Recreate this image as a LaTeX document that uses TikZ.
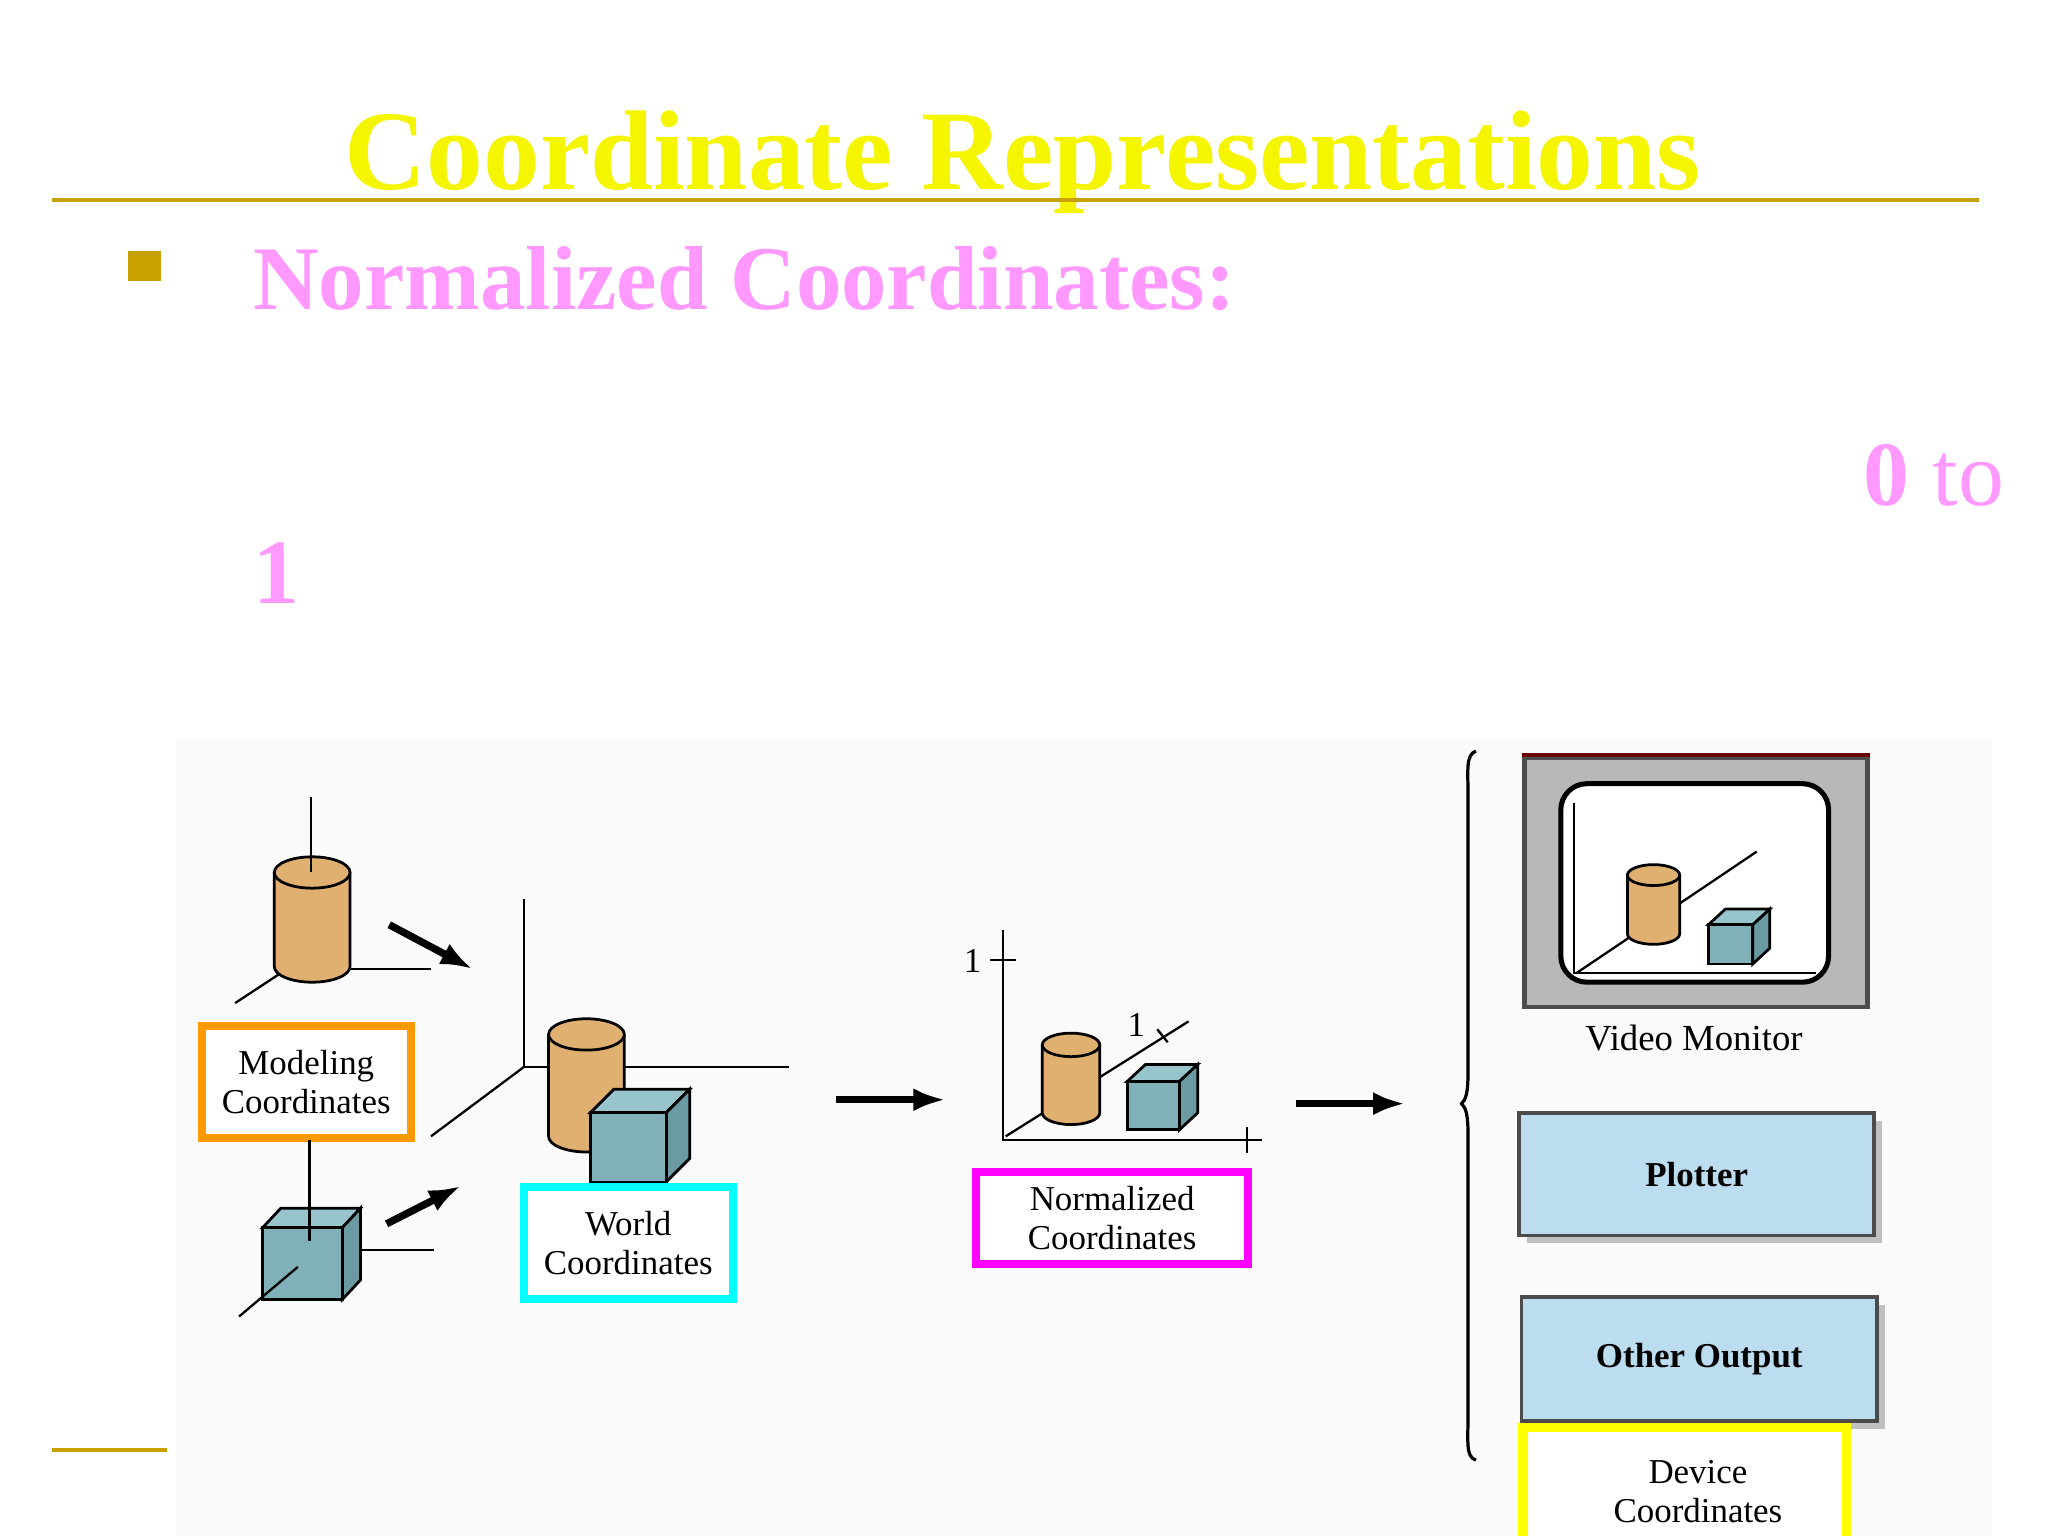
\documentclass[tikz,border=0pt]{standalone}
\usepackage{fontspec}
\setmainfont{Liberation Serif}
\usetikzlibrary{arrows.meta}
\definecolor{gold}{HTML}{C8A000}
\definecolor{ttl}{HTML}{F5F500}
\definecolor{pk}{HTML}{FF99FF}
\definecolor{cyl}{HTML}{E0B070}
\definecolor{cubef}{HTML}{80B0B8}
\definecolor{cubet}{HTML}{98C4CC}
\definecolor{cubes}{HTML}{6A9AA2}
\definecolor{dev}{HTML}{BCDCF0}
\definecolor{org}{HTML}{FF9900}
\definecolor{cyn}{HTML}{00FFFF}
\definecolor{mag}{HTML}{FF00FF}
\definecolor{yel}{HTML}{FFFF00}
\begin{document}
\begin{tikzpicture}[x=0.01cm,y=-0.01cm,
 lbl/.style={font=\fontsize{7.6}{8.4}\selectfont,align=center,inner sep=0},
 box/.style={line width=6*0.01cm},
 ax/.style={line width=0.5pt},
 arr/.style={line width=1.6pt,-{Latex[length=7pt,width=5pt]}},
 outb/.style={fill=dev,draw=black!70,line width=0.8pt,font=\fontsize{7.6}{8.4}\selectfont\bfseries}]
\useasboundingbox (0,0) rectangle (1568,1176);
\fill[white] (0,0) rectangle (1568,1176);
\fill[black!2] (135,565) rectangle (1525,1176);
% header
\node[text=ttl,font=\fontsize{24.7}{28}\selectfont\bfseries,anchor=base] (title) at (783,145) {Coordinate Representations};
\draw[gold,line width=3*0.01cm] (40,153) -- (1515,153);
\fill[gold] (98,192) rectangle (123,215);
\node[text=pk,font=\fontsize{19.8}{24}\selectfont\bfseries,anchor=base west,inner sep=0] (nc) at (193,237) {Normalized Coordinates:};
\node[text=pk,font=\fontsize{20}{24}\selectfont,anchor=base east,inner sep=0] (zt) at (1535,387) {\textbf{0} to};
\node[text=pk,font=\fontsize{20}{24}\selectfont\bfseries,anchor=base west,inner sep=0] (one) at (193,462) {1};
\draw[gold,line width=3*0.01cm] (40,1110) -- (128,1110);
% cylinder macro
\newcommand{\mycyl}[5]{% cx, top y, rx, ry, bottom y
 \fill[cyl] (#1-#3,#2) -- (#1-#3,#5) arc[start angle=180,end angle=0,x radius=#3,y radius=#4] -- (#1+#3,#2) -- cycle;
 \draw[black,line width=0.6pt] (#1-#3,#2) -- (#1-#3,#5) arc[start angle=180,end angle=0,x radius=#3,y radius=#4] -- (#1+#3,#2);
 \draw[black,line width=0.6pt,fill=cyl] (#1,#2) ellipse[x radius=#3,y radius=#4];}
\newcommand{\mycube}[6]{% x1 y1 x2 y2 dx dy
 \draw[line width=0.6pt,fill=cubet] (#1,#2) -- (#1+#5,#2-#6) -- (#3+#5,#2-#6) -- (#3,#2) -- cycle;
 \draw[line width=0.6pt,fill=cubes] (#3,#2) -- (#3+#5,#2-#6) -- (#3+#5,#4-#6) -- (#3,#4) -- cycle;
 \draw[line width=0.6pt,fill=cubef] (#1,#2) rectangle (#3,#4);}
% modeling
\draw[ax] (239,742) -- (330,742);
\draw[ax] (180,768) -- (215,745);
\mycyl{239}{668}{29}{12}{740}
\draw[ax] (238,610) -- (238,668);
\coordinate (a1s) at (298,708); \coordinate (a1e) at (362,742);
\draw[arr] (a1s) -- (a1e);
\node[box,draw=org,fill=white,minimum width=160*0.01cm,minimum height=86*0.01cm,lbl] (mod) at (234.5,828.5) {Modeling\\Coordinates};
\coordinate (c0) at (237,873);
\coordinate (c1) at (237,925);
\draw[ax] (c0) -- (c1);
\mycube{201}{940}{262}{995}{14}{15}
\draw[ax] (237,925) -- (237,950);
\draw[ax] (275,957) -- (332,957);
\draw[ax] (183,1008) -- (228,970);
\coordinate (a2s) at (296,937); \coordinate (a2e) at (353,908);
\draw[arr] (a2s) -- (a2e);
% world
\draw[ax] (401,688) -- (401,817) -- (604,817);
\draw[ax] (330,870) -- (401,817);
\mycyl{449}{792}{29}{12}{870}
\mycube{452}{852}{510}{905}{18}{18}
\node[box,draw=cyn,fill=white,minimum width=160*0.01cm,minimum height=86*0.01cm,lbl] (wld) at (481,951.5) {World\\Coordinates};
\coordinate (a3s) at (640,842); \coordinate (a3e) at (724,842);
\draw[arr] (a3s) -- (a3e);
% normalized
\draw[ax] (768,712) -- (768,873) -- (966,873);
\draw[ax] (758,735) -- (778,735);
\draw[ax] (955,863) -- (955,883);
\draw[ax] (770,870) -- (910,782);
\draw[ax] (886,788) -- (894,798);
\node[lbl,anchor=east] (n1) at (752,736) {1};
\node[lbl] (n2) at (870,785) {1};
\mycyl{820}{800}{22}{9}{852}
\mycube{863}{828}{903}{865}{14}{13}
\node[box,draw=mag,fill=white,minimum width=208*0.01cm,minimum height=70*0.01cm,lbl] (nrm) at (851.5,932.5) {Normalized\\Coordinates};
\coordinate (a4s) at (992,845); \coordinate (a4e) at (1076,845);
\draw[arr] (a4s) -- (a4e);
% brace
\coordinate (b1) at (1130,575); \coordinate (b2) at (1130,1118); \coordinate (bt) at (1119,845);
\draw[line width=0.7pt] (b1) .. controls (1122,578) and (1124,590) .. (1124,610) -- (1124,820) .. controls (1124,838) and (1122,842) .. (bt) .. controls (1122,848) and (1124,852) .. (1124,870) -- (1124,1080) .. controls (1124,1105) and (1122,1115) .. (b2);
% monitor
\node[draw=black!70,fill=black!28,line width=1pt,minimum width=263*0.01cm,minimum height=191*0.01cm,inner sep=0] (mon) at (1298.5,675.5) {};
\draw[red!40!black,line width=0.8pt] (mon.north west) -- (mon.north east);
\draw[line width=1.1pt,fill=white,rounded corners=20*0.01cm] (1195,600) rectangle (1400,752);
\draw[ax] (1205,615) -- (1205,745) -- (1390,745);
\draw[ax] (1207,745) -- (1345,652);
\mycyl{1266}{670}{20}{8}{715}
\mycube{1308}{708}{1342}{738}{13}{12}
\node[lbl,font=\fontsize{8}{9}\selectfont] (vm) at (1297,795) {Video Monitor};
% outputs
\fill[black!25] (1169,858) rectangle (1441,952);
\node[outb,minimum width=272*0.01cm,minimum height=94*0.01cm,inner sep=0] (plt) at (1299,899) {Plotter};
\fill[black!25] (1171,999) rectangle (1443,1094);
\node[outb,minimum width=272*0.01cm,minimum height=95*0.01cm,inner sep=0] (oth) at (1301,1040.5) {Other Output};
\draw[yel,line width=7*0.01cm,fill=white] (1166,1093) rectangle (1414,1180);
\node[lbl] (devl) at (1300,1142) {Device\\Coordinates};
\end{tikzpicture}
\end{document}
